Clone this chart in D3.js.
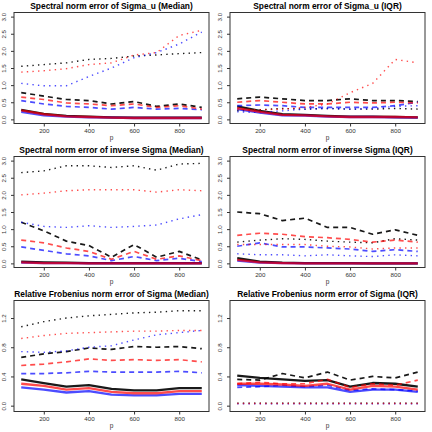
<!DOCTYPE html>
<html>
<head>
<meta charset="utf-8">
<script src="https://cdn.jsdelivr.net/npm/d3@7/dist/d3.min.js"></script>
<style>
  body { margin: 0; background: #fff; }
  svg { display: block; font-family: "Liberation Sans", Arial, sans-serif; }
</style>
</head>
<body>
<div id="chart"></div>
<script>
// p 取值
const pValues = [100, 200, 300, 400, 500, 600, 700, 800, 900]
const xTicks = [200, 400, 600, 800]
const yTicksSpectral = [0, 0.5, 1, 1.5, 2, 2.5, 3]
const yTicksFrob = [0, 0.4, 0.8, 1.2]

const titles = [
  'Spectral norm error of Sigma_u (Median)',
  'Spectral norm error of Sigma_u (IQR)',
  'Spectral norm error of inverse Sigma (Median)',
  'Spectral norm error of inverse Sigma (IQR)',
  'Relative Frobenius norm error of Sigma (Median)',
  'Relative Frobenius norm error of Sigma (IQR)'
]

// 每个面板 9 条线，顺序：
// black solid, black dashed, black dotted, blue solid, blue dashed, blue dotted, red solid, red dashed, red dotted
const sigmaUMedian = [
  [0.28, 0.16, 0.10, 0.08, 0.06, 0.05, 0.05, 0.05, 0.05],
  [0.78, 0.68, 0.58, 0.55, 0.45, 0.52, 0.38, 0.45, 0.35],
  [1.55, 1.60, 1.65, 1.75, 1.78, 1.85, 1.88, 1.92, 1.95],
  [0.22, 0.12, 0.08, 0.06, 0.05, 0.04, 0.04, 0.04, 0.04],
  [0.55, 0.45, 0.38, 0.35, 0.30, 0.35, 0.30, 0.32, 0.28],
  [1.05, 0.98, 0.98, 1.25, 1.50, 1.80, 1.95, 2.20, 2.55],
  [0.26, 0.15, 0.09, 0.07, 0.05, 0.04, 0.04, 0.04, 0.04],
  [0.65, 0.58, 0.48, 0.45, 0.40, 0.45, 0.35, 0.40, 0.30],
  [1.38, 1.42, 1.48, 1.60, 1.65, 1.88, 1.95, 2.45, 2.60]
]
const sigmaUIqr = [
  [0.38, 0.25, 0.15, 0.13, 0.10, 0.08, 0.08, 0.07, 0.06],
  [0.60, 0.65, 0.60, 0.55, 0.55, 0.60, 0.55, 0.55, 0.52],
  [0.25, 0.28, 0.32, 0.30, 0.32, 0.30, 0.30, 0.32, 0.30],
  [0.30, 0.20, 0.12, 0.11, 0.08, 0.07, 0.07, 0.06, 0.05],
  [0.40, 0.42, 0.40, 0.35, 0.35, 0.35, 0.35, 0.40, 0.50],
  [0.22, 0.20, 0.25, 0.30, 0.32, 0.30, 0.32, 0.38, 0.40],
  [0.33, 0.22, 0.13, 0.12, 0.09, 0.07, 0.07, 0.07, 0.06],
  [0.50, 0.55, 0.50, 0.45, 0.45, 0.50, 0.48, 0.50, 0.48],
  [0.30, 0.28, 0.30, 0.35, 0.45, 0.78, 1.05, 1.75, 1.65]
]
const invSigmaMedian = [
  [0.05, 0.03, 0.02, 0.01, 0.01, 0.01, 0.01, 0.01, 0.01],
  [1.20, 0.95, 0.65, 0.52, 0.18, 0.55, 0.18, 0.35, 0.10],
  [2.65, 2.70, 2.85, 2.85, 2.80, 2.85, 2.72, 2.90, 2.92],
  [0.02, 0.01, 0.01, 0.00, 0.00, 0.00, 0.00, 0.00, 0.00],
  [0.48, 0.38, 0.28, 0.22, 0.08, 0.20, 0.08, 0.15, 0.05],
  [1.20, 1.08, 1.05, 1.10, 1.05, 1.08, 1.12, 1.30, 1.42],
  [0.03, 0.01, 0.01, 0.00, 0.00, 0.00, 0.00, 0.00, 0.00],
  [0.68, 0.60, 0.45, 0.35, 0.12, 0.35, 0.12, 0.22, 0.08],
  [2.00, 2.05, 2.12, 2.15, 2.15, 2.15, 2.08, 2.15, 2.12]
]
const invSigmaIqr = [
  [0.15, 0.05, 0.02, 0.01, 0.01, 0.01, 0.00, 0.00, 0.00],
  [1.50, 1.45, 1.25, 1.32, 1.05, 1.05, 0.85, 0.98, 0.82],
  [0.62, 0.68, 0.72, 0.70, 0.65, 0.62, 0.60, 0.72, 0.68],
  [0.08, 0.02, 0.01, 0.00, 0.00, 0.00, 0.00, 0.00, 0.00],
  [0.50, 0.60, 0.48, 0.48, 0.45, 0.42, 0.35, 0.40, 0.35],
  [0.28, 0.25, 0.25, 0.22, 0.25, 0.22, 0.20, 0.25, 0.22],
  [0.10, 0.03, 0.01, 0.00, 0.00, 0.00, 0.00, 0.00, 0.00],
  [0.82, 0.88, 0.85, 0.78, 0.75, 0.70, 0.62, 0.68, 0.62],
  [0.55, 0.55, 0.55, 0.55, 0.50, 0.48, 0.42, 0.45, 0.45]
]
const frobMedian = [
  [0.36, 0.31, 0.26, 0.28, 0.23, 0.21, 0.21, 0.24, 0.24],
  [0.66, 0.71, 0.74, 0.79, 0.77, 0.81, 0.80, 0.81, 0.78],
  [1.08, 1.15, 1.20, 1.23, 1.25, 1.27, 1.28, 1.30, 1.30],
  [0.25, 0.22, 0.18, 0.20, 0.15, 0.14, 0.14, 0.16, 0.16],
  [0.44, 0.44, 0.45, 0.47, 0.46, 0.46, 0.46, 0.47, 0.45],
  [0.74, 0.73, 0.75, 0.80, 0.82, 0.90, 0.97, 1.00, 1.03],
  [0.30, 0.27, 0.22, 0.24, 0.19, 0.17, 0.17, 0.20, 0.20],
  [0.55, 0.57, 0.60, 0.64, 0.62, 0.63, 0.62, 0.63, 0.60],
  [0.92, 0.96, 0.99, 1.00, 1.01, 1.02, 1.02, 1.03, 1.03]
]
const frobIqr = [
  [0.41, 0.38, 0.36, 0.34, 0.35, 0.26, 0.31, 0.30, 0.26],
  [0.36, 0.35, 0.44, 0.38, 0.46, 0.35, 0.40, 0.38, 0.46],
  [0.035, 0.035, 0.035, 0.035, 0.035, 0.035, 0.035, 0.035, 0.035],
  [0.28, 0.27, 0.26, 0.25, 0.25, 0.19, 0.22, 0.22, 0.19],
  [0.25, 0.26, 0.28, 0.26, 0.28, 0.21, 0.23, 0.22, 0.20],
  [0.025, 0.025, 0.025, 0.025, 0.025, 0.025, 0.025, 0.025, 0.025],
  [0.30, 0.30, 0.29, 0.27, 0.30, 0.22, 0.27, 0.26, 0.22],
  [0.30, 0.32, 0.30, 0.30, 0.36, 0.25, 0.30, 0.28, 0.35],
  [0.03, 0.03, 0.03, 0.03, 0.03, 0.03, 0.03, 0.03, 0.03]
]

const panelData = [sigmaUMedian, sigmaUIqr, invSigmaMedian, invSigmaIqr, frobMedian, frobIqr]

// 样式配置
const lineColors = ['#000000', '#0000ff', '#ff0000']
const lineTypes = ['solid', 'dashed', 'dotted']
const W = 432, H = 432
const cellW = 216, cellH = 144
const margin = { left: 14, right: 7, top: 12.5, bottom: 20.5 }

const svg = d3.select('#chart')
  .append('svg')
  .attr('width', W)
  .attr('height', H)

svg.append('rect').attr('width', W).attr('height', H).attr('fill', '#fff')

panelData.forEach((series, i) => {
  const col = i % 2
  const row = Math.floor(i / 2)
  const x0 = col * cellW + margin.left
  const x1 = col * cellW + cellW - margin.right
  const y0 = row * cellH + margin.top
  const y1 = row * cellH + cellH - margin.bottom

  const yDomain = row < 2 ? [-0.12, 3.12] : [-0.08, 1.44]
  const yTicks = row < 2 ? yTicksSpectral : yTicksFrob

  const x = d3.scaleLinear().domain([68, 932]).range([x0, x1])
  const y = d3.scaleLinear().domain(yDomain).range([y1, y0])

  const g = svg.append('g').attr('class', 'panel')

  g.append('clipPath').attr('id', 'clip' + i)
    .append('rect')
    .attr('x', x0).attr('y', y0)
    .attr('width', x1 - x0).attr('height', y1 - y0)

  // 线
  const line = d3.line()
    .x((d, k) => x(pValues[k]))
    .y(d => y(d))

  const lines = g.append('g').attr('clip-path', 'url(#clip' + i + ')')
  series.forEach((vals, k) => {
    const color = lineColors[Math.floor(k / 3)]
    const type = lineTypes[k % 3]
    const path = lines.append('path')
      .attr('d', line(vals))
      .attr('fill', 'none')
      .attr('stroke', color)
      .attr('stroke-opacity', color === '#000000' ? 0.9 : 0.7)
      .attr('stroke-linejoin', 'round')
    if (type === 'solid') {
      path.attr('stroke-width', 2.3)
    } else if (type === 'dashed') {
      path.attr('stroke-width', 1.7).attr('stroke-dasharray', '5,4')
    } else {
      path.attr('stroke-width', 1.4).attr('stroke-dasharray', '1.4,4.2')
    }
  })

  // x 轴
  const xAxis = g.append('g')
    .attr('transform', 'translate(0,' + y1 + ')')
    .call(d3.axisBottom(x).tickValues(xTicks).tickSize(3).tickFormat(d3.format('d')))
  xAxis.select('.domain').remove()
  xAxis.selectAll('line').attr('stroke', '#333')
  xAxis.selectAll('text')
    .attr('y', 5)
    .attr('dy', '0.71em')
    .attr('font-size', 6.2)
    .attr('font-family', '"Liberation Sans", Arial, sans-serif')
    .attr('fill', '#333')

  // y 轴，标签竖排
  const yAxis = g.append('g')
    .attr('transform', 'translate(' + x0 + ',0)')
    .call(d3.axisLeft(y).tickValues(yTicks).tickSize(3).tickFormat(d3.format('.1f')))
  yAxis.select('.domain').remove()
  yAxis.selectAll('line').attr('stroke', '#333')
  yAxis.selectAll('text')
    .attr('x', 0)
    .attr('y', -8)
    .attr('dy', 0)
    .attr('text-anchor', 'middle')
    .attr('transform', 'rotate(-90)')
    .attr('font-size', 6.2)
    .attr('font-family', '"Liberation Sans", Arial, sans-serif')
    .attr('fill', '#333')

  // 边框
  g.append('rect')
    .attr('x', x0).attr('y', y0)
    .attr('width', x1 - x0).attr('height', y1 - y0)
    .attr('fill', 'none')
    .attr('stroke', '#333')
    .attr('stroke-width', 1)

  // 标题
  g.append('text')
    .attr('x', (x0 + x1) / 2)
    .attr('y', row * cellH + 9)
    .attr('text-anchor', 'middle')
    .attr('font-size', 8.4)
    .attr('font-weight', 'bold')
    .attr('fill', '#000')
    .text(titles[i])

  // x 轴标题
  g.append('text')
    .attr('x', (x0 + x1) / 2)
    .attr('y', row * cellH + 140)
    .attr('text-anchor', 'middle')
    .attr('font-size', 6.5)
    .attr('fill', '#333')
    .text('p')
})
</script>
</body>
</html>
